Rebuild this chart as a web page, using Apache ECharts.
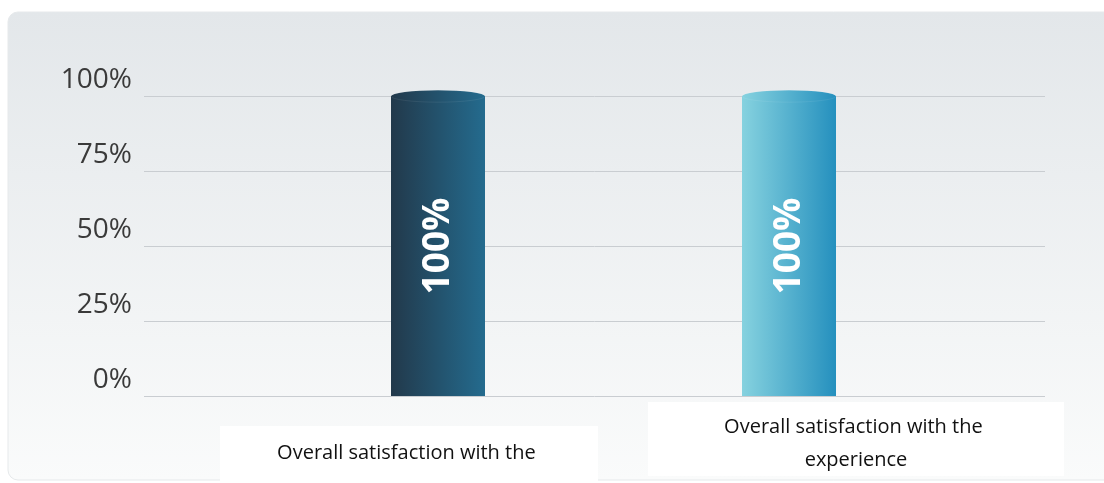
<!DOCTYPE html>
<html>
<head>
<meta charset="utf-8">
<script src="https://cdn.jsdelivr.net/npm/echarts@6/dist/echarts.min.js"></script>
<style>
  html, body { margin: 0; padding: 0; background: #fff; }
  #chart { width: 1104px; height: 483px; }
</style>
</head>
<body>
<div id="chart"></div>
<script>
// data
var categories = ['Overall satisfaction with the experience', 'Overall satisfaction with the experience'];
var values = [100, 100];
var yTicks = [0, 25, 50, 75, 100];

// bar colours (left -> right gradient)
var barColors = [
  ['#22394b', '#246b8e'],
  ['#86d2df', '#2590be']
];
// label boxes under the bars
var labelBoxes = [
  { x: 220, y: 426, w: 378, h: 57, pad: 11 },
  { x: 648, y: 402, w: 416, h: 72, pad: 9 }
];

var myChart = echarts.init(document.getElementById('chart'));

function grad(c) {
  return new echarts.graphic.LinearGradient(0, 0, 1, 0, [
    { offset: 0, color: c[0] },
    { offset: 1, color: c[1] }
  ]);
}

var graphics = [{
  type: 'rect',
  z: -100,
  shape: { x: 8, y: 12, width: 1120, height: 468, r: 10 },
  style: {
    fill: new echarts.graphic.LinearGradient(0, 0, 0, 1, [
      { offset: 0, color: '#e3e7ea' },
      { offset: 1, color: '#fafbfb' }
    ]),
    stroke: '#e6e9eb',
    lineWidth: 1
  }
}];
labelBoxes.forEach(function (b, i) {
  graphics.push({
    type: 'rect',
    z: 100,
    shape: { x: b.x, y: b.y, width: b.w, height: b.h + 2 },
    style: { fill: '#ffffff' }
  });
  graphics.push({
    type: 'text',
    z: 101,
    x: b.x + b.w / 2,
    y: b.y + b.pad,
    style: {
      text: categories[i],
      width: 290,
      height: b.h - 6,
      overflow: 'break',
      lineOverflow: 'truncate',
      align: 'center',
      verticalAlign: 'top',
      fontFamily: 'Open Sans',
      fontSize: 20,
      lineHeight: 33,
      fill: '#111111'
    }
  });
});

var option = {
  backgroundColor: '#ffffff',
  animation: false,
  graphic: graphics,
  grid: [
    { left: 144, right: 59, top: 96, bottom: 87 },
    { left: 262.5, right: 139.5, top: 96, bottom: 87 }
  ],
  xAxis: [
    { type: 'category', gridIndex: 0, data: categories, show: false },
    {
      type: 'category', gridIndex: 1, data: categories,
      axisLine: { show: false }, axisTick: { show: false },
      axisLabel: { show: false }
    }
  ],
  yAxis: [
    {
      type: 'value', gridIndex: 0,
      min: yTicks[0], max: yTicks[yTicks.length - 1], interval: 25,
      axisLine: { show: false },
      axisTick: { show: false },
      splitLine: { lineStyle: { color: '#c9cdd1', width: 1 } },
      axisLabel: {
        formatter: '{value}%',
        color: '#3a3a3a',
        fontFamily: 'Open Sans',
        fontSize: 28,
        margin: 12,
        verticalAlign: 'bottom',
        lineHeight: 28,
        padding: [0, 0, 2, 0]
      }
    },
    {
      type: 'value', gridIndex: 1, min: 0, max: 100, show: false,
      splitLine: { show: false }
    }
  ],
  series: [
    {
      type: 'bar',
      xAxisIndex: 1,
      yAxisIndex: 1,
      barWidth: 94,
      data: values.map(function (v, i) {
        return { value: v, itemStyle: { color: grad(barColors[i]) } };
      }),
      label: {
        show: true,
        position: 'inside',
        rotate: 90,
        formatter: '{c}%',
        color: '#ffffff',
        fontFamily: 'Open Sans',
        fontWeight: 'bold',
        fontSize: 37
      }
    },
    {
      type: 'pictorialBar',
      xAxisIndex: 1,
      yAxisIndex: 1,
      symbol: 'circle',
      symbolSize: [94, 12],
      symbolPosition: 'end',
      symbolOffset: [0, '-50%'],
      z: 3,
      data: values.map(function (v, i) {
        return {
          value: v,
          itemStyle: {
            color: grad(barColors[i]),
            borderColor: 'rgba(255,255,255,0.55)',
            borderWidth: 1
          }
        };
      })
    }
  ]
};

myChart.setOption(option, true);
window.addEventListener('resize', function () {
  myChart.resize();
});
</script>
</body>
</html>
